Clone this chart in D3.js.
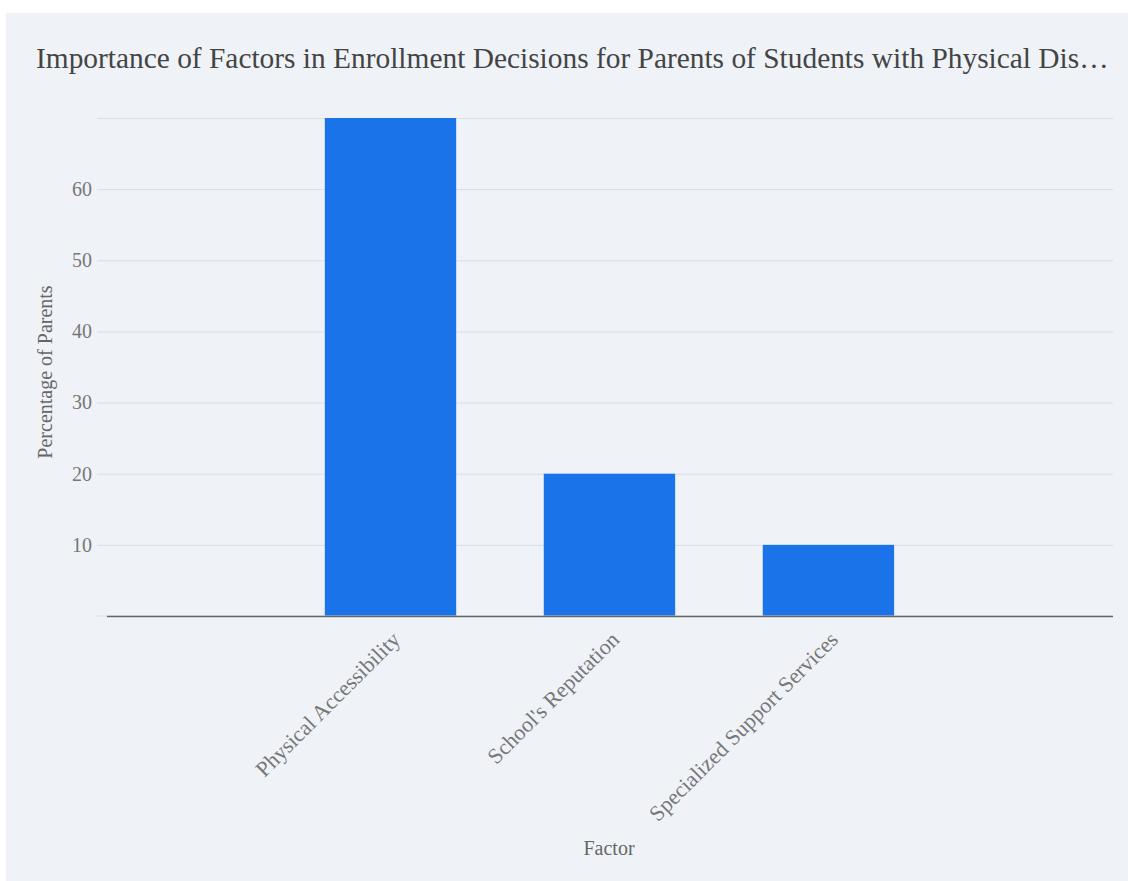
<!DOCTYPE html>
<html>
<head>
<meta charset="utf-8">
<script src="https://cdn.jsdelivr.net/npm/d3@7"></script>
<style>
  html, body { margin: 0; padding: 0; background: #ffffff; }
  svg { display: block; }
</style>
</head>
<body>
<svg id="chart" width="1128" height="881"></svg>
<script>
// Survey results: share of parents naming each factor as most important
const factors = ["Physical Accessibility", "School's Reputation", "Specialized Support Services"];
const percentages = [70, 20, 10];
const yTicks = [10, 20, 30, 40, 50, 60, 70];
const yTickLabels = ["10", "20", "30", "40", "50", "60", ""];

const chartTitle = "Importance of Factors in Enrollment Decisions for Parents of Students with Physical Disabilities";
const xTitle = "Factor";
const yTitle = "Percentage of Parents";

const FONT = "'Liberation Serif', 'Times New Roman', serif";
const W = 1128, H = 881;
const panel = { x: 6, y: 13 };
const plot = { left: 97, right: 1113, top: 118, bottom: 616 };

const svg = d3.select("#chart").attr("font-family", FONT);

svg.append("rect")
  .attr("x", panel.x).attr("y", panel.y)
  .attr("width", W - panel.x).attr("height", H - panel.y)
  .attr("fill", "#eff3f8");

const x = d3.scaleBand()
  .domain(factors)
  .range([plot.left, plot.right])
  .paddingInner(0.4)
  .paddingOuter(1.02)
  .align(0.51);

const y = d3.scaleLinear()
  .domain([0, 70])
  .range([plot.bottom, plot.top]);

// horizontal grid and value labels
const yAxis = d3.axisLeft(y)
  .tickValues(yTicks)
  .tickSize(-(plot.right - plot.left))
  .tickPadding(5)
  .tickFormat((d, i) => yTickLabels[i]);

const gy = svg.append("g")
  .attr("transform", `translate(${plot.left},0)`)
  .call(yAxis)
  .attr("font-family", FONT);
gy.select(".domain").remove();
gy.selectAll(".tick line").attr("stroke", "#d9dde4").attr("stroke-width", 1);
gy.selectAll(".tick text")
  .attr("fill", "#777")
  .attr("font-size", 20)
  .attr("font-family", FONT);

// bars
svg.append("g")
  .selectAll("rect")
  .data(factors)
  .join("rect")
  .attr("x", d => x(d))
  .attr("width", x.bandwidth())
  .attr("y", (d, i) => y(percentages[i]))
  .attr("height", (d, i) => y(0) - y(percentages[i]))
  .attr("fill", "#1a73e8");

// baseline
svg.append("line")
  .attr("x1", plot.left).attr("x2", plot.right)
  .attr("y1", y(0)).attr("y2", y(0))
  .attr("stroke", "#d9dde4").attr("stroke-width", 1);
svg.append("line")
  .attr("x1", plot.left + 10).attr("x2", plot.right)
  .attr("y1", y(0) + 0.5).attr("y2", y(0) + 0.5)
  .attr("stroke", "#666").attr("stroke-width", 1.5);

// category labels
const xAxis = d3.axisBottom(x).tickSize(0).tickPadding(0);
const gx = svg.append("g")
  .attr("transform", `translate(0,${plot.bottom})`)
  .call(xAxis)
  .attr("font-family", FONT);
gx.select(".domain").remove();
gx.selectAll(".tick text")
  .attr("fill", "#777")
  .attr("font-size", 22)
  .attr("font-family", FONT)
  .attr("text-anchor", "end")
  .attr("dy", 0)
  .attr("transform", "translate(11,25) rotate(-45)");

// axis titles
svg.append("text")
  .attr("x", (plot.left + plot.right) / 2 + 4)
  .attr("y", 855)
  .attr("text-anchor", "middle")
  .attr("fill", "#666")
  .attr("font-size", 20)
  .attr("font-family", FONT)
  .text(xTitle);

svg.append("text")
  .attr("transform", `translate(52,${(plot.top + plot.bottom) / 2 + 5}) rotate(-90)`)
  .attr("text-anchor", "middle")
  .attr("fill", "#666")
  .attr("font-size", 20)
  .attr("font-family", FONT)
  .text(yTitle);

// title, clipped with an ellipsis to fit the width
const title = svg.append("text")
  .attr("x", 36)
  .attr("y", 68)
  .attr("fill", "#444")
  .attr("font-size", 29.4)
  .attr("font-family", FONT)
  .text(chartTitle);
const maxW = 1112 - 36;
if (title.node().getComputedTextLength() > maxW) {
  let s = chartTitle;
  while (s.length > 0) {
    s = s.slice(0, -1);
    title.text(s.trimEnd() + "…");
    if (title.node().getComputedTextLength() <= maxW) break;
  }
}
</script>
</body>
</html>
